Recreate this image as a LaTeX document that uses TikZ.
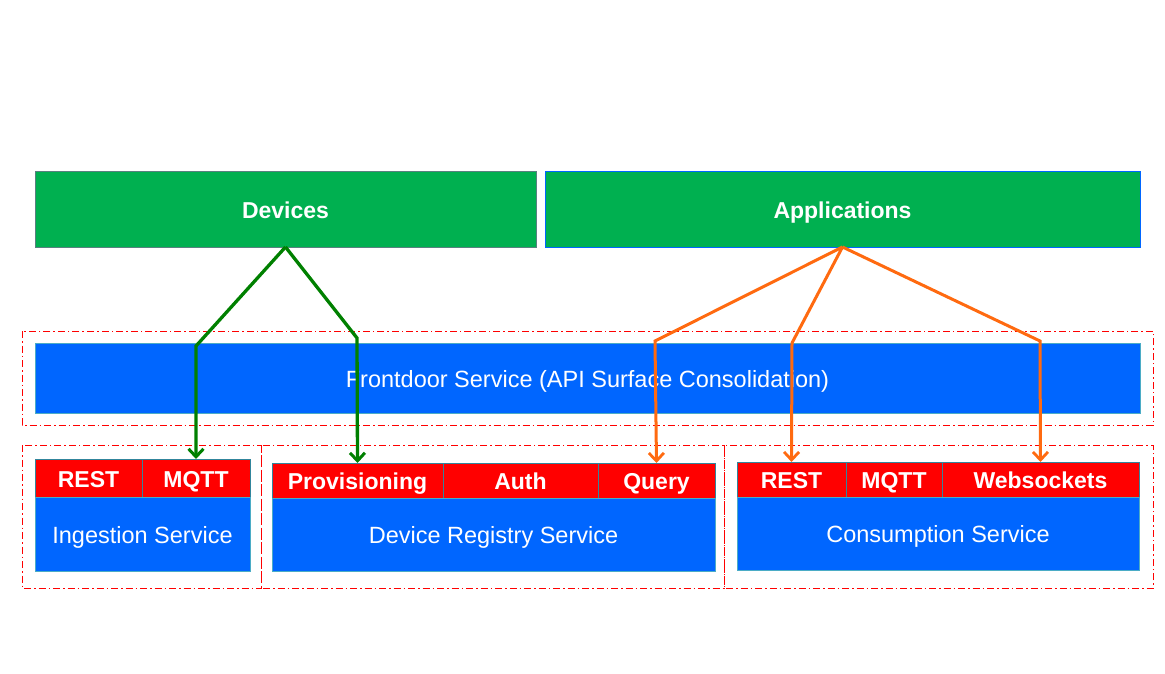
\documentclass[tikz,border=0pt]{standalone}
\usepackage{fontspec}
\setmainfont{Liberation Sans}
\usetikzlibrary{arrows.meta,calc}
\definecolor{gbox}{HTML}{00B050}
\definecolor{bbox}{HTML}{0066FF}
\definecolor{rbox}{HTML}{FF0000}
\definecolor{tealb}{HTML}{4BACC6}
\definecolor{tealr}{HTML}{31859C}
\definecolor{garr}{HTML}{008000}
\definecolor{oarr}{HTML}{FF6A10}
\tikzset{
  x=1pt,y=-1pt,
  base/.style={rectangle,inner sep=0pt,outer sep=0pt,anchor=north west,text=white,text height=19.5pt,text depth=1pt,font=\fontsize{23.5}{25}\selectfont},
  topbox/.style={base,fill=gbox,draw=#1,line width=1pt,font=\fontsize{23}{25}\selectfont\bfseries},
  svcbox/.style={base,fill=bbox,draw=tealb,line width=1pt},
  tagbox/.style={base,fill=rbox,draw=tealr,line width=0.8pt,font=\fontsize{23}{25}\selectfont\bfseries},
  group/.style={draw=red,line width=1pt,dash pattern=on 7pt off 3pt on 1.5pt off 3pt},
  garrow/.style={draw=garr,line width=3.3pt,-{Straight Barb[length=8pt,width=15pt,line width=3pt]}},
  oarrow/.style={draw=oarr,line width=3pt,-{Straight Barb[length=8pt,width=15pt,line width=2.8pt]}},
}
\begin{document}
\begin{tikzpicture}
\useasboundingbox (0,0) rectangle (1165,674);
% groups
\draw[group] (22,331) rectangle (1153,425);
\draw[group] (22,445) rectangle (261,588);
\draw[group] (261,445) rectangle (724,588);
\draw[group] (724,445) rectangle (1153,588);
% top boxes
\node[topbox=gray!70!teal,minimum width=501pt,minimum height=75pt] (dev) at (35,172) {Devices};
\node[topbox=bbox,minimum width=595pt,minimum height=75pt] (app) at (545,172) {Applications};
% frontdoor
\node[svcbox,minimum width=1105pt,minimum height=70pt] (front) at (35,343) {Frontdoor Service (API Surface Consolidation)};
% ingestion
\node[tagbox,minimum width=107pt,minimum height=38pt] (irest) at (35,459) {REST};
\node[tagbox,minimum width=108pt,minimum height=38pt] (imqtt) at (142,459) {MQTT};
\node[svcbox,minimum width=215pt,minimum height=74pt] (ing) at (35,497) {Ingestion Service};
% device registry
\node[tagbox,minimum width=171pt,minimum height=35pt] (prov) at (272,463) {Provisioning};
\node[tagbox,minimum width=155pt,minimum height=35pt] (auth) at (443,463) {Auth};
\node[tagbox,minimum width=117pt,minimum height=35pt] (query) at (598,463) {Query};
\node[svcbox,minimum width=443pt,minimum height=73pt] (reg) at (272,498) {Device Registry Service};
% consumption
\node[tagbox,minimum width=109pt,minimum height=35pt] (crest) at (737,462) {REST};
\node[tagbox,minimum width=96pt,minimum height=35pt] (cmqtt) at (846,462) {MQTT};
\node[tagbox,minimum width=197pt,minimum height=35pt] (cws) at (942,462) {Websockets};
\node[svcbox,minimum width=402pt,minimum height=73pt] (cons) at (737,497) {Consumption Service};
% bend points
\coordinate (g1) at (196,346);
\coordinate (g2) at (357,338);
\coordinate (o1) at (655,341);
\coordinate (o2) at (792,343);
\coordinate (o3) at (1040,341);
% arrows
\draw[garrow] (dev.south) -- (g1) -- (imqtt.north);
\draw[garrow] (dev.south) -- (g2) -- (prov.north);
\draw[oarrow] (app.south) -- (o1) -- (query.north);
\draw[oarrow] (app.south) -- (o2) -- (crest.north);
\draw[oarrow] (app.south) -- (o3) -- (cws.north);
\end{tikzpicture}
\end{document}
